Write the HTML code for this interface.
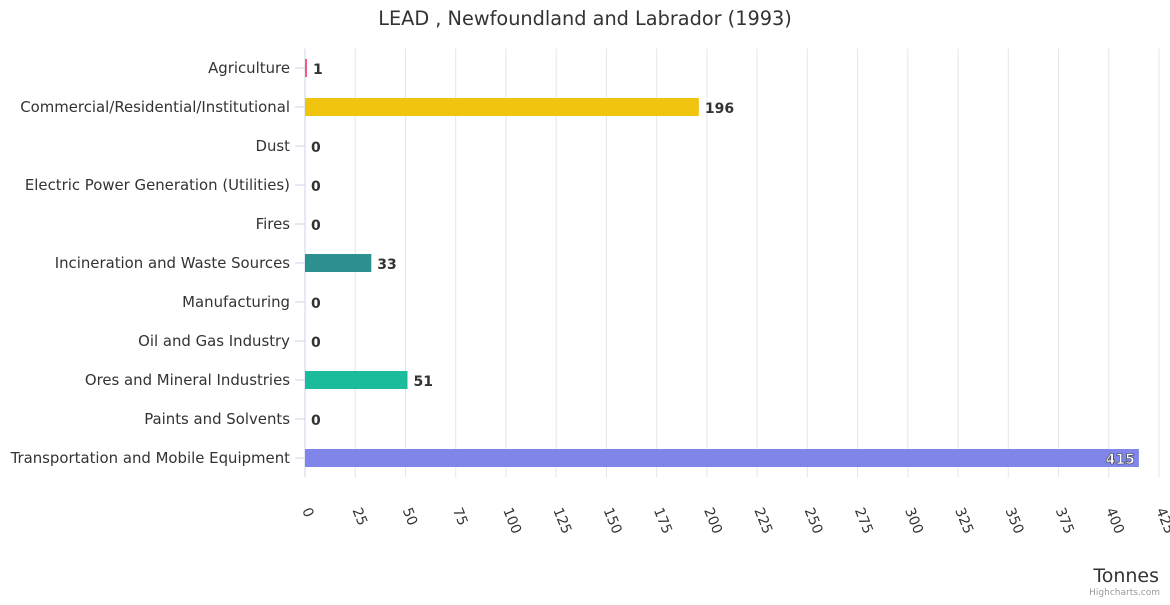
<!DOCTYPE html>
<html><head><meta charset="utf-8"><style>
body{margin:0;background:#fff;font-family:"Liberation Sans","DejaVu Sans",sans-serif}
</style></head><body>
<svg id="c" width="1170" height="600" xmlns="http://www.w3.org/2000/svg" font-family="'DejaVu Sans','Liberation Sans',sans-serif">
<text x="585" y="25" text-anchor="middle" font-size="19.3" fill="#333">LEAD , Newfoundland and Labrador (1993)</text>
<g id="grid"></g><g id="bars"></g><g id="ylab"></g><g id="xlab"></g>
<text x="1159" y="582" text-anchor="end" font-size="19" fill="#333">Tonnes</text>
<text x="1160" y="595" text-anchor="end" font-size="9" fill="#999">Highcharts.com</text>
</svg>
<script>
const categories=["Agriculture","Commercial/Residential/Institutional","Dust","Electric Power Generation (Utilities)","Fires","Incineration and Waste Sources","Manufacturing","Oil and Gas Industry","Ores and Mineral Industries","Paints and Solvents","Transportation and Mobile Equipment"];
const values=[1,196,0,0,0,33,0,0,51,0,415];
const colors=["#f15c80","#f1c40f","#7cb5ec","#434348","#90ed7d","#2b908f","#f7a35c","#8085e9","#1abc9c","#e4d354","#8085e9"];
const ticks=[0,25,50,75,100,125,150,175,200,225,250,275,300,325,350,375,400,425];
const NS="http://www.w3.org/2000/svg";
const L=305,R=1159,T=48.5,B=477.5,max=425;
const x=v=>L+(R-L)*v/max;
const step=(B-T)/categories.length;
const y=i=>T+step*(i+0.5);
function mk(t,a,p){const e=document.createElementNS(NS,t);for(const k in a)e.setAttribute(k,a[k]);p.appendChild(e);return e;}
const g=document.getElementById('grid'),bs=document.getElementById('bars'),yl=document.getElementById('ylab'),xl=document.getElementById('xlab');
ticks.forEach(t=>{
 if(t>0){const l=mk('line',{x1:x(t),x2:x(t),y1:T,y2:B,stroke:'#e6e6e6'},g);
 
 }
 const tx=mk('text',{transform:`translate(${x(t)-3},${510}) rotate(68)`,'font-size':14,fill:'#333'},xl);
 tx.textContent=t;
 
 
});
const ax=mk('line',{x1:L,x2:L,y1:T,y2:B,stroke:'#ccd6eb'},g);


categories.forEach((c,i)=>{
 const tk=mk('line',{x1:L-10,x2:L,y1:y(i),y2:y(i),stroke:'#ccd6eb'},g);
 
 
 const lb=mk('text',{x:290,y:y(i)+5,'text-anchor':'end','font-size':14.9,fill:'#333'},yl);
 lb.textContent=c;
 
 
 const v=values[i];
 if(v>0){const r=mk('rect',{x:L,y:y(i)-9,width:Math.max(x(v)-L,2),height:18,fill:colors[i]},bs);
 
 }
 const inside=x(v)+40>R;
 const dl=mk('text',{x:inside?x(v)-4:x(v)+6,y:y(i)+6,'text-anchor':inside?'end':'start','font-size':14,'font-weight':'bold',fill:inside?'#fff':'#333',stroke:inside?'#333':'none','stroke-width':inside?0.6:0},bs);
 dl.textContent=v;
 
 
});
</script>
</body></html>
